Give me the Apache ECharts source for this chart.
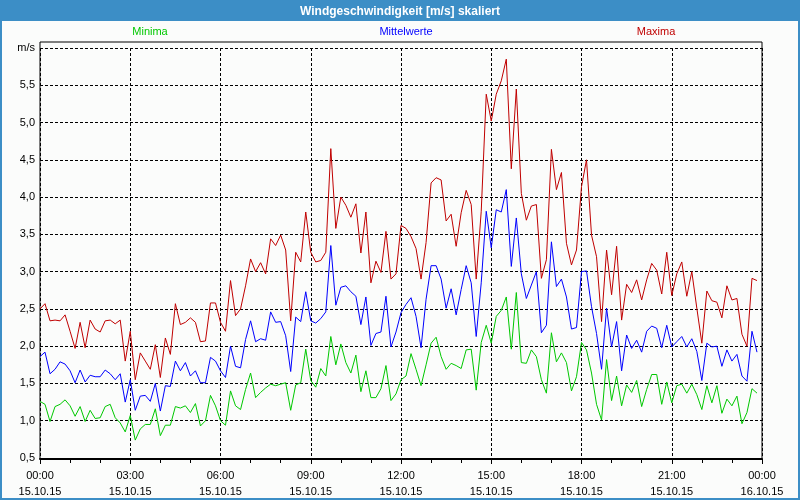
<!DOCTYPE html>
<html>
<head>
<meta charset="utf-8">
<script src="https://cdn.jsdelivr.net/npm/echarts@6/dist/echarts.min.js"></script>
<style>
html,body{margin:0;padding:0;background:#fff;}
#chart{width:800px;height:500px;}
</style>
</head>
<body>
<div id="chart"></div>
<script>
// ---- data ----
const stepMinutes = 10;
const timeLabels = ['00:00','03:00','06:00','09:00','12:00','15:00','18:00','21:00','00:00'];
const dateLabels = ['15.10.15','15.10.15','15.10.15','15.10.15','15.10.15','15.10.15','15.10.15','15.10.15','16.10.15'];
const seriesNames = ['Minima','Mittelwerte','Maxima'];

const minVals = [1.26,1.22,0.99,1.19,1.22,1.28,1.20,1.06,1.19,0.99,1.14,1.03,1.04,1.19,1.22,1.04,0.97,0.85,1.07,0.74,0.89,0.95,0.95,1.16,0.80,
0.94,0.94,1.19,1.17,1.20,1.11,1.23,0.93,1.00,1.34,1.20,1.00,0.94,1.40,1.20,1.15,1.42,1.64,1.31,1.38,1.44,1.49,1.47,1.49,
1.51,1.14,1.48,1.51,1.96,1.54,1.45,1.70,1.60,2.13,1.75,2.03,1.78,1.64,1.88,1.39,1.67,1.31,1.31,1.43,1.74,1.27,1.36,1.55,
1.60,1.90,1.69,1.47,1.75,2.04,2.12,1.86,1.69,1.77,1.74,1.70,1.95,1.96,1.41,2.05,2.28,2.04,2.40,2.48,2.66,1.96,2.72,1.78,
1.77,1.95,1.86,1.55,1.37,2.18,1.79,1.91,1.78,1.40,1.59,2.05,1.95,1.64,1.22,1.01,1.82,1.27,1.60,1.20,1.48,1.38,1.54,1.19,
1.42,1.62,1.62,1.22,1.52,1.24,1.47,1.49,1.37,1.49,1.35,1.15,1.47,1.24,1.47,1.10,1.29,1.20,1.33,0.96,1.11,1.43,1.37];

const meanVals = [1.86,1.92,1.63,1.69,1.79,1.76,1.67,1.51,1.68,1.52,1.61,1.59,1.59,1.68,1.63,1.55,1.63,1.25,1.55,1.14,1.33,1.34,1.26,1.50,1.13,
1.47,1.46,1.80,1.67,1.78,1.60,1.67,1.51,1.51,1.85,1.80,1.67,1.58,2.00,1.73,1.71,2.09,2.34,2.06,2.10,2.08,2.46,2.32,2.33,
2.14,1.66,2.39,2.33,2.73,2.34,2.31,2.37,2.46,3.35,2.55,2.79,2.81,2.73,2.67,2.29,2.66,2.01,2.17,2.19,2.67,1.99,2.19,2.45,
2.56,2.65,2.40,1.98,2.63,3.08,3.08,2.90,2.51,2.77,2.42,2.76,3.08,2.85,2.13,2.85,3.81,3.32,3.83,3.80,4.10,3.07,3.72,2.97,
2.64,2.82,3.00,2.18,2.28,3.40,2.80,2.90,2.66,2.23,2.25,3.00,3.01,2.53,2.17,1.69,2.51,1.99,2.33,1.67,2.15,1.97,2.08,1.92,
2.20,2.27,2.24,1.98,2.28,1.99,2.06,2.13,1.99,2.10,1.93,1.54,2.04,1.99,2.00,1.73,1.95,1.80,1.89,1.60,1.53,2.20,1.92];

const maxVals = [2.50,2.57,2.34,2.35,2.34,2.42,2.20,1.97,2.32,1.98,2.35,2.23,2.19,2.34,2.35,2.30,2.35,1.80,2.20,1.55,1.91,1.80,1.69,2.02,1.58,
2.11,1.89,2.57,2.29,2.32,2.38,2.32,2.06,2.07,2.58,2.58,2.32,2.20,2.88,2.41,2.50,2.81,3.17,3.00,3.12,2.97,3.44,3.35,3.49,
3.29,2.34,3.26,3.13,3.80,3.26,3.13,3.15,3.26,4.65,3.58,4.00,3.89,3.73,3.91,3.25,3.80,2.85,3.14,2.99,3.54,2.90,2.97,3.62,
3.58,3.47,3.31,2.90,3.39,4.19,4.26,4.23,3.68,3.77,3.34,3.79,4.09,3.90,2.90,3.81,5.38,5.02,5.38,5.56,5.85,4.38,5.45,4.05,
3.69,3.88,3.90,2.91,3.16,4.64,4.10,4.33,3.38,3.09,3.29,4.14,4.50,3.49,3.20,2.33,3.29,2.69,3.34,2.35,2.83,2.72,2.89,2.62,
2.89,3.11,3.02,2.70,3.26,2.68,2.97,3.13,2.67,3.00,2.51,2.04,2.74,2.61,2.59,2.38,2.81,2.62,2.64,2.16,2.00,2.91,2.88];

// ---- chart ----
const FONT = 'Liberation Sans';
const BLUE_BAR = '#3c8ec6';
const colors = {Minima:'#00c800', Mittelwerte:'#0000ff', Maxima:'#c00000'};
function pairs(arr){ return arr.map((v,i)=>[i*stepMinutes, v]); }

const chart = echarts.init(document.getElementById('chart'), null, {renderer:'canvas'});
const dash = {color:'#000', width:1, type:[3,2]};

chart.setOption({
  animation:false,
  backgroundColor:'#fbfcfb',
  textStyle:{fontFamily:FONT},
  graphic:[
    {type:'rect', z:-1, shape:{x:0,y:0,width:800,height:21}, style:{fill:BLUE_BAR}},
    {type:'rect', z:100, shape:{x:1,y:1,width:798,height:498}, style:{fill:null, stroke:BLUE_BAR, lineWidth:2}}
  ],
  title:[
    {text:'Windgeschwindigkeit [m/s] skaliert', left:'center', top:1,
     textStyle:{color:'#fff', fontSize:12, fontWeight:'bold', fontFamily:FONT}},
    {text:'Minima', left:145, top:21, textAlign:'center', textStyle:{color:colors.Minima, fontSize:11, fontWeight:'normal', fontFamily:FONT}},
    {text:'Mittelwerte', left:401, top:21, textAlign:'center', textStyle:{color:colors.Mittelwerte, fontSize:11, fontWeight:'normal', fontFamily:FONT}},
    {text:'Maxima', left:651, top:21, textAlign:'center', textStyle:{color:colors.Maxima, fontSize:11, fontWeight:'normal', fontFamily:FONT}}
  ],
  grid:[
    {left:40, right:38, top:48, bottom:42, containLabel:false},
    {left:40, right:38, top:42, bottom:40, show:true, borderColor:'#000', borderWidth:1, backgroundColor:'transparent'}
  ],
  xAxis:[
    {type:'value', gridIndex:0, min:0, max:1440, interval:180,
     axisLine:{show:false}, axisTick:{show:false}, axisLabel:{show:false},
     splitLine:{show:true, lineStyle:dash}},
    {type:'value', gridIndex:1, min:0, max:1440, interval:180,
     axisLine:{show:true, lineStyle:{color:'#000', width:2}},
     axisTick:{show:true, length:5, lineStyle:{color:'#000'}},
     minorTick:{show:true, splitNumber:3, length:4, lineStyle:{color:'#000'}},
     splitLine:{show:false},
     axisLabel:{show:true, color:'#000', fontSize:11, fontFamily:FONT, lineHeight:16, margin:9,
       formatter:(v)=>{const k=Math.round(v/180); return timeLabels[k]+'\n'+dateLabels[k];}}}
  ],
  yAxis:[
    {type:'value', gridIndex:0, min:0.5, max:6, interval:0.5,
     axisLine:{show:false}, axisTick:{show:false},
     splitLine:{show:true, lineStyle:dash},
     axisLabel:{color:'#000', fontSize:11, fontFamily:FONT, margin:5,
       formatter:(v)=> Math.abs(v-6)<1e-9 ? 'm/s' : v.toFixed(1).replace('.',',')}},
    {type:'value', gridIndex:1, show:false, min:0, max:1}
  ],
  series:[
    {name:seriesNames[0], type:'line', xAxisIndex:0, yAxisIndex:0, data:pairs(minVals), showSymbol:false, symbol:'none',
     lineStyle:{color:colors.Minima, width:1}, itemStyle:{color:colors.Minima}, z:3},
    {name:seriesNames[1], type:'line', xAxisIndex:0, yAxisIndex:0, data:pairs(meanVals), showSymbol:false, symbol:'none',
     lineStyle:{color:colors.Mittelwerte, width:1}, itemStyle:{color:colors.Mittelwerte}, z:4},
    {name:seriesNames[2], type:'line', xAxisIndex:0, yAxisIndex:0, data:pairs(maxVals), showSymbol:false, symbol:'none',
     lineStyle:{color:colors.Maxima, width:1}, itemStyle:{color:colors.Maxima}, z:5}
  ]
});
</script>
</body>
</html>
